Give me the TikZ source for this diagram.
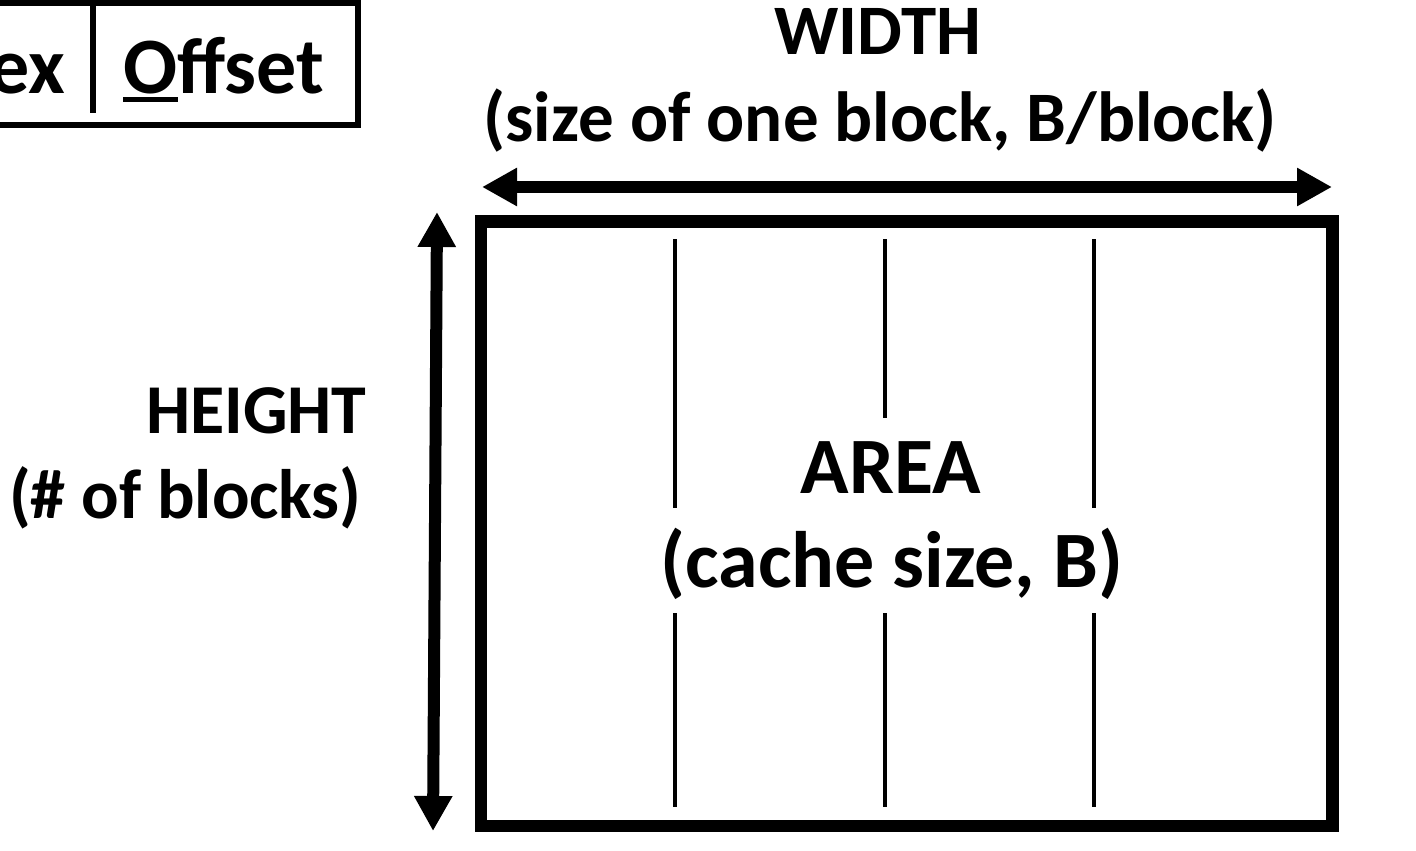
\documentclass[tikz,border=0pt]{standalone}
\usepackage{fontspec}
\setmainfont{Carlito}
\usetikzlibrary{arrows.meta}

% underline as drawn in the slide: thicker than \underline
\newcommand\ulbar[1]{\setbox0\hbox{#1}\rlap{\rule[-0.1em]{\wd0}{0.063em}}\box0}

\begin{document}
\begin{tikzpicture}[x=0.5pt, y=-0.5pt, >={Triangle[length=17.5pt, width=18pt]},
    lbl/.style={font=\bfseries\fontsize{35}{42}\selectfont, inner sep=0pt},
    fld/.style={font=\bfseries\fontsize{40}{47}\selectfont, inner sep=0pt},
    wlbl/.style={font=\bfseries\fontsize{35.5}{42}\selectfont, inner sep=0pt},
    big/.style={font=\bfseries\fontsize{40}{47}\selectfont, inner sep=0pt}]
    \useasboundingbox (0,0) rectangle (1416,850);
    \clip (0,0) rectangle (1416,850);

    % address fields, cut off at the left edge
    \draw[line width=3pt] (-400,3) rectangle (358,125);
    \draw[line width=3pt] (93,0) -- (93,113);
    \node[fld, anchor=base east] (index) at (66,94) {\ulbar{I}ndex};
    \node[fld, anchor=base west] (offset) at (123,94) {\ulbar{O}ffset};

    % the cache as a box of blocks
    \draw[line width=6.25pt] (481,221.5) rectangle (1332.5,826);
    \foreach \x/\y in {675/508, 885/418, 1094/508}{
        \draw[line width=2pt] (\x,239) -- (\x,\y);
        \draw[line width=2pt] (\x,613) -- (\x,807);
    }
    \node[big, anchor=base] (area) at (891,493) {AREA};
    \node[big, anchor=base] (areasub) at (892,587) {(cache size, B)};

    % width
    \node[wlbl, anchor=base] (width) at (878,55) {WIDTH};
    \node[wlbl, anchor=base] (widthsub) at (880,142) {(size of one block, B/block)};
    \coordinate (wl) at (482,187);
    \coordinate (wr) at (1332,187);
    \draw[<->, line width=6pt] (wl) -- (wr);

    % height
    \node[lbl, anchor=base east] (height) at (367,433) {HEIGHT};
    \node[lbl, anchor=base east] (heightsub) at (362,518) {(\# of blocks)};
    \coordinate (ht) at (437,212);
    \coordinate (hb) at (433,831);
    \draw[<->, line width=6pt] (ht) -- (hb);
\end{tikzpicture}
\end{document}
